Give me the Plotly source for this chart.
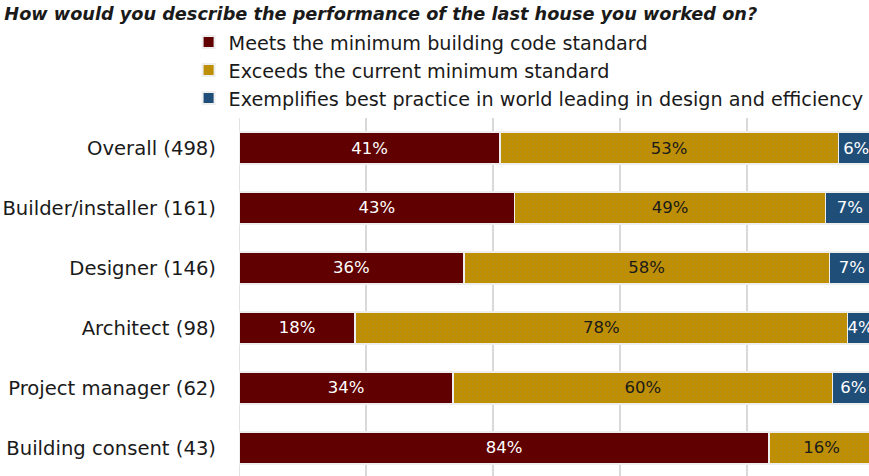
import plotly.graph_objects as go

categories = ["Overall (498)", "Builder/installer (161)", "Designer (146)",
              "Architect (98)", "Project manager (62)", "Building consent (43)"]
# bar lengths (percent)
meets = [41.1, 43.4, 35.4, 18.3, 33.7, 83.5]
exceeds = [53.3, 49.0, 57.6, 77.5, 59.8, 16.5]
best = [5.6, 7.6, 7.0, 4.2, 6.5, 0.0]
# printed labels
meets_lbl = ["41%", "43%", "36%", "18%", "34%", "84%"]
exceeds_lbl = ["53%", "49%", "58%", "78%", "60%", "16%"]
best_lbl = ["6%", "7%", "7%", "4%", "6%", ""]
series_names = ["Meets the minimum building code standard",
                "Exceeds the current minimum standard",
                "Exemplifies best practice in world leading in design and efficiency"]
title_text = "How would you describe the performance of the last house you worked on?"

colors = ["#600000", "#c08f00", "#1f4e79"]
text_colors = ["white", "#1a1a1a", "white"]
FONT = "DejaVu Sans"

fig = go.Figure()
for name, vals, lbls, col, tcol in zip(series_names, [meets, exceeds, best],
                                       [meets_lbl, exceeds_lbl, best_lbl],
                                       colors, text_colors):
    kw = {}
    if col == "#c08f00":
        kw["pattern"] = dict(shape=".", fgcolor="#9a8a60", size=4, solidity=0.15)
    fig.add_trace(go.Bar(
        y=categories, x=vals, name=name, orientation="h",
        marker=dict(color=col, line=dict(color="#eeeeee", width=1.5), **kw),
        text=lbls, textangle=0,
        textposition="inside", insidetextanchor="middle",
        constraintext="none",
        textfont=dict(color=tcol, size=16.5, family=FONT),
    ))

fig.update_layout(
    barmode="stack",
    width=869, height=476,
    margin=dict(l=239, r=0, t=118, b=0),
    plot_bgcolor="white", paper_bgcolor="white",
    bargap=0.467,
    title=dict(text=f"<b><i>{title_text}</i></b>", x=0.005, xanchor="left",
               y=1 - 14 / 476, yanchor="middle",
               font=dict(family=FONT, size=17.7, color="#1a1a1a")),
    legend=dict(x=-0.080, xanchor="left", y=1.265, yanchor="top",
                font=dict(family=FONT, size=19.2, color="#1a1a1a"),
                traceorder="normal", itemsizing="constant",
                tracegroupgap=0, bgcolor="rgba(0,0,0,0)"),
    xaxis=dict(range=[0, 630 / 6.35], dtick=20, showgrid=True, gridcolor="#d9d9d9",
               gridwidth=1.5, showticklabels=False, zeroline=False,
               showline=False, fixedrange=True),
    yaxis=dict(categoryorder="array", categoryarray=categories,
               range=[5.467, -0.5], showgrid=False, showline=False,
               ticks="", ticklabelstandoff=22,
               tickfont=dict(family=FONT, size=19.6, color="#1a1a1a")),
)
fig.add_shape(type="line", xref="x", yref="paper", x0=0, x1=0, y0=0, y1=1,
              line=dict(color="#d9d9d9", width=1.5), layer="below")

fig.write_html("out.html")
